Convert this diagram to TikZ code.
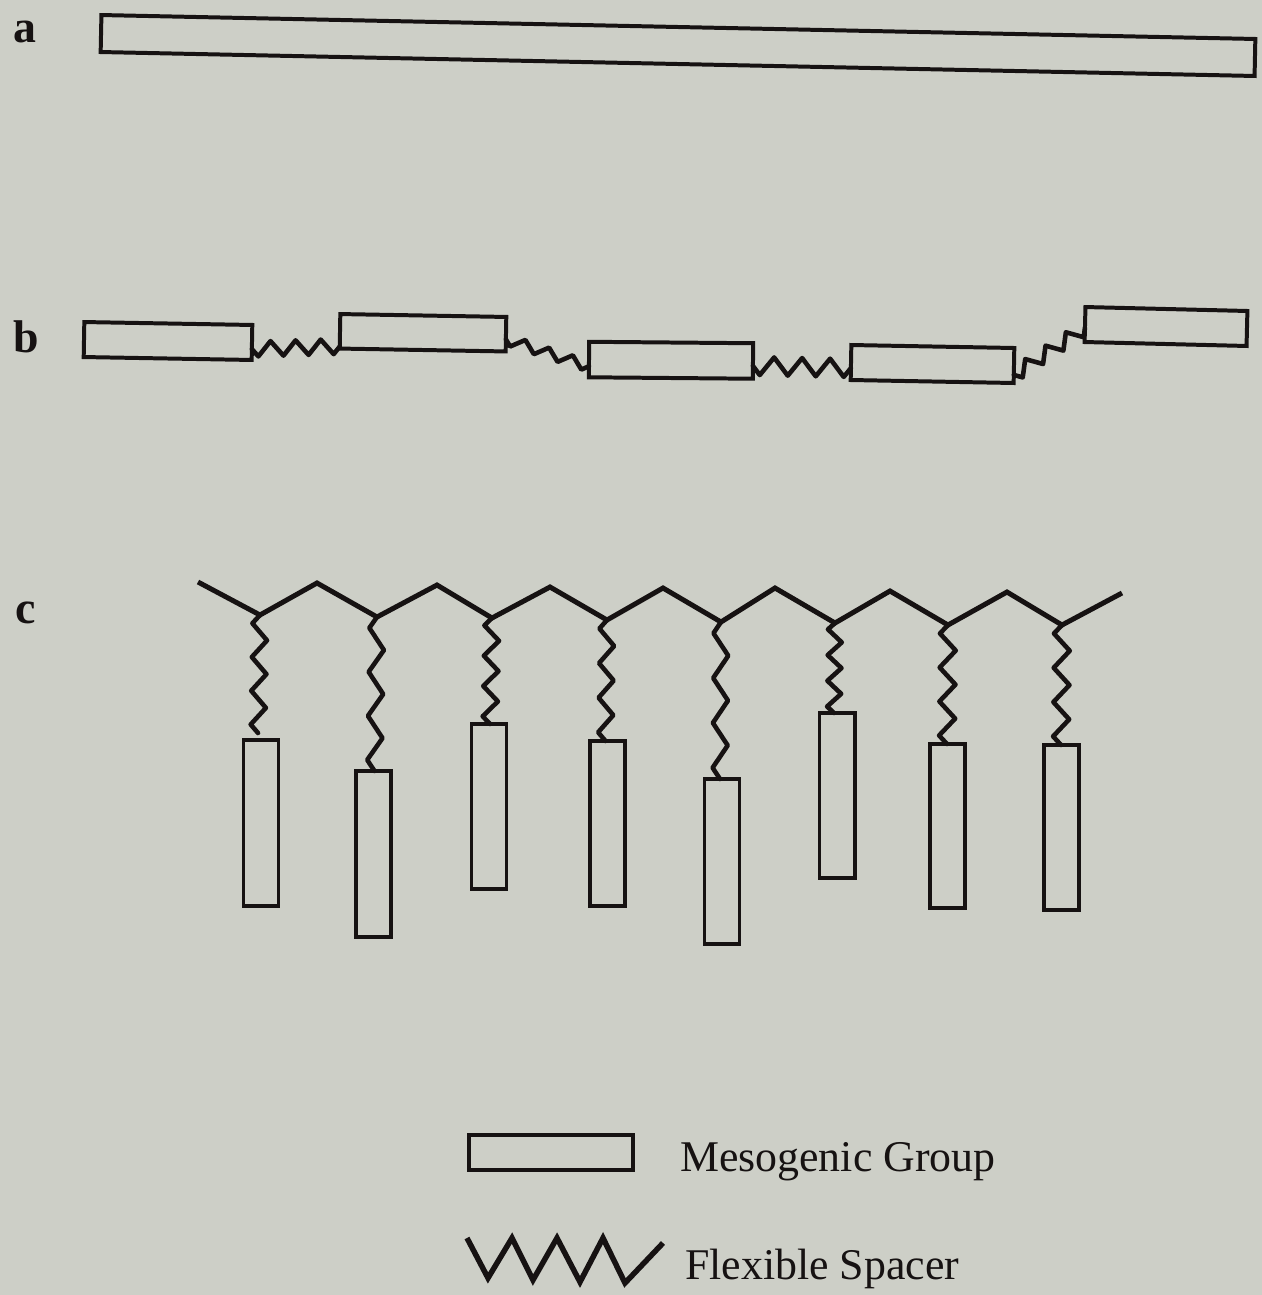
\documentclass[tikz,border=0pt]{standalone}
\usepackage{fontspec}
\setmainfont{Liberation Serif}
\usetikzlibrary{calc}
\definecolor{bg}{RGB}{205,207,199}
\definecolor{ink}{RGB}{22,18,18}
\newcommand\springline[3]{%
  \draw[spring] (#1) \foreach \k in {1,...,7} { -- ($(#1)!{(\k-0.5)/7}!(#2)!{(1-2*mod(\k,2))*#3*1pt}!90:(#2)$) } -- (#2);}
\tikzset{
  meso/.style={draw=ink, line width=4pt, inner sep=0pt, outer sep=0pt, rectangle},
  mesov/.style={meso, minimum width=35bp, minimum height=166bp, anchor=north},
  spring/.style={draw=ink, line width=4.6pt, line join=round, line cap=round},
  chain/.style={draw=ink, line width=5pt, line join=miter},
  lab/.style={inner sep=0pt, font=\bfseries\fontsize{46}{50}\selectfont, text=ink, anchor=base west},
  legtxt/.style={inner sep=0pt, font=\fontsize{44}{50}\selectfont, text=ink, anchor=base west},
}
\begin{document}
\begin{tikzpicture}[x=1bp, y=-1bp]
\useasboundingbox (0,0) rectangle (1262,1295);
\fill[bg] (0,0) rectangle (1262,1295);

% labels
\node[lab] (la) at (13,42) {a};
\node[lab] (lb) at (13,352) {b};
\node[lab] (lc) at (15,623) {c};

% (a) rigid rod
\node[meso, minimum width=1154.2bp, minimum height=37bp, rotate=-1.19] (ra) at (678,45.5) {};

% (b) main-chain
\node[meso, minimum width=168bp, minimum height=35bp, rotate=-1.0] (b1) at (168,341) {};
\node[meso, minimum width=166bp, minimum height=34.5bp, rotate=-1.0] (b2) at (423,332.75) {};
\node[meso, minimum width=164bp, minimum height=35.5bp, rotate=-0.5] (b3) at (671,360.25) {};
\node[meso, minimum width=163bp, minimum height=35bp, rotate=-1.05] (b4) at (932.5,364) {};
\node[meso, minimum width=162bp, minimum height=35bp, rotate=-1.4] (b5) at (1166,326.5) {};

\coordinate (s1a) at ($(b1.south east)!0.31!(b1.north east)$);
\coordinate (s1b) at ($(b2.south west)!0.06!(b2.north west)$);
\coordinate (s2a) at ($(b2.south east)!0.35!(b2.north east)$);
\coordinate (s2b) at ($(b3.south west)!0.31!(b3.north west)$);
\coordinate (s3a) at ($(b3.south east)!0.36!(b3.north east)$);
\coordinate (s3b) at ($(b4.south west)!0.34!(b4.north west)$);
\coordinate (s4a) at ($(b4.south east)!0.23!(b4.north east)$);
\coordinate (s4b) at ($(b5.south west)!0.40!(b5.north west)$);
\springline{s1a}{s1b}{7.5}
\springline{s2a}{s2b}{5.5}
\springline{s3a}{s3b}{9}
\springline{s4a}{s4b}{7}

% (c) side-chain
\coordinate (st) at (198,582);
\coordinate (v1) at (260,615);
\coordinate (p1) at (317,583);
\coordinate (v2) at (377,617);
\coordinate (p2) at (437,585);
\coordinate (v3) at (492,618);
\coordinate (p3) at (550,587);
\coordinate (v4) at (607,620);
\coordinate (p4) at (663,588);
\coordinate (v5) at (721,622);
\coordinate (p5) at (775,588);
\coordinate (v6) at (835,623);
\coordinate (p6) at (890,591);
\coordinate (v7) at (948,625);
\coordinate (p7) at (1007,592);
\coordinate (v8) at (1062,625);
\coordinate (en) at (1122,593);
\draw[chain] (st) -- (v1) -- (p1) -- (v2) -- (p2) -- (v3) -- (p3) -- (v4) -- (p4)
  -- (v5) -- (p5) -- (v6) -- (p6) -- (v7) -- (p7) -- (v8) -- (en);

\node[mesov] (m1) at (261,740) {};
\node[mesov] (m2) at (373.5,771) {};
\node[mesov, minimum height=165bp] (m3) at (489,724) {};
\node[mesov, minimum height=165bp] (m4) at (607.5,741) {};
\node[mesov, minimum height=165bp] (m5) at (722,779) {};
\node[mesov, minimum height=165bp] (m6) at (837,713) {};
\node[mesov, minimum height=164bp] (m7) at (947,744) {};
\node[mesov, minimum height=165bp] (m8) at (1061,745) {};

\coordinate (e1) at ($(m1.north)+(-3,-7)$);
\coordinate (e2) at ($(m2.north)+(1,0)$);
\coordinate (e3) at ($(m3.north)+(1,0)$);
\coordinate (e4) at ($(m4.north)+(-2,0)$);
\coordinate (e5) at ($(m5.north)+(-2,0)$);
\coordinate (e6) at ($(m6.north)+(-3,0)$);
\coordinate (e7) at (m7.north);
\coordinate (e8) at (m8.north);
\springline{v1}{e1}{7.5}
\springline{v2}{e2}{7.5}
\springline{v3}{e3}{7.5}
\springline{v4}{e4}{7.5}
\springline{v5}{e5}{7.5}
\springline{v6}{e6}{7}
\springline{v7}{e7}{8}
\springline{v8}{e8}{8}

% legend
\node[meso, minimum width=164bp, minimum height=35bp] (lgm) at (551,1152.5) {};
\node[legtxt] (tm) at (680,1171) {Mesogenic Group};
\draw[chain, line width=5.5pt, line join=miter] (467,1238) -- (488,1278) -- (512,1238) -- (533,1280) -- (557,1238)
  -- (580,1282) -- (603,1238) -- (625,1283) -- (663,1243);
\node[legtxt] (tf) at (685,1279) {Flexible Spacer};
\end{tikzpicture}
\end{document}
